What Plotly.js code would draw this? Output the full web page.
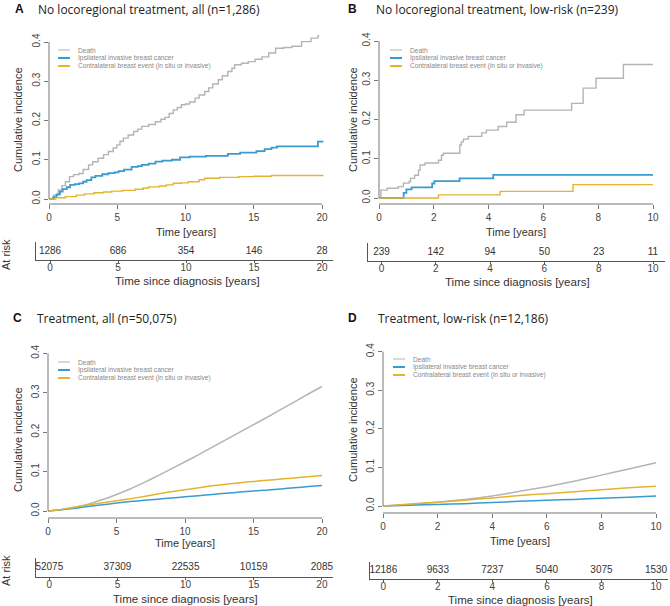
<!DOCTYPE html>
<html><head><meta charset="utf-8">
<script src="https://cdn.plot.ly/plotly-3.0.1.min.js"></script>
<style>body{margin:0;background:#fff}#chart{width:670px;height:606px}</style>
</head><body><div id="chart"></div>
<script>
// ---------- DATA ----------
const seriesNames = ['Death', 'Ipsilateral invasive breast cancer', 'Contralateral breast event (in situ or invasive)'];
const panelTitles = ['No locoregional treatment, all (n=1,286)', 'No locoregional treatment, low-risk (n=239)', 'Treatment, all (n=50,075)', 'Treatment, low-risk (n=12,186)'];
const panelLetters = ['A', 'B', 'C', 'D'];

// Panel A (step functions)
const deathA_t = [0, 0.35, 0.68, 0.95, 1.2, 1.5, 1.8, 2.2, 2.5, 2.9, 3.2, 3.6, 4.0, 4.35, 4.7, 4.96, 5.2, 5.45, 5.8, 6.2, 6.5, 6.8, 7.3, 7.8, 8.2, 8.5, 8.8, 9.1, 9.4, 9.7, 10.0, 10.3, 10.7, 11.0, 11.4, 11.7, 12.0, 12.4, 12.7, 13.1, 13.4, 13.6, 14.1, 14.6, 15.1, 15.6, 16.1, 16.6, 17.2, 17.8, 18.5, 19.2, 19.7, 19.8];
const deathA_v = [0, 0.01, 0.023, 0.034, 0.044, 0.057, 0.062, 0.065, 0.075, 0.087, 0.095, 0.104, 0.113, 0.121, 0.13, 0.138, 0.147, 0.155, 0.163, 0.172, 0.178, 0.185, 0.19, 0.197, 0.203, 0.208, 0.218, 0.227, 0.233, 0.24, 0.242, 0.247, 0.257, 0.265, 0.274, 0.283, 0.293, 0.304, 0.314, 0.325, 0.333, 0.342, 0.346, 0.35, 0.356, 0.362, 0.372, 0.384, 0.386, 0.389, 0.401, 0.41, 0.416, 0.416];
const ipsiA_t = [0, 0.3, 0.55, 0.8, 1.0, 1.3, 1.55, 1.9, 2.2, 2.5, 2.75, 3.1, 3.4, 3.9, 4.35, 4.8, 5.1, 5.5, 6.05, 6.5, 6.8, 7.3, 7.8, 8.3, 9.0, 9.6, 10.3, 11.5, 13.1, 14.0, 15.2, 15.8, 16.3, 16.7, 19.7, 20.1];
const ipsiA_v = [0, 0.005, 0.012, 0.019, 0.025, 0.03, 0.036, 0.038, 0.04, 0.044, 0.048, 0.055, 0.059, 0.063, 0.066, 0.068, 0.071, 0.075, 0.082, 0.084, 0.087, 0.09, 0.095, 0.098, 0.1, 0.106, 0.108, 0.11, 0.115, 0.118, 0.122, 0.127, 0.131, 0.134, 0.146, 0.146];
const contraA_t = [0, 0.5, 1.2, 2.0, 2.6, 3.3, 4.0, 4.6, 5.4, 6.3, 6.9, 7.3, 8.1, 8.6, 9.1, 9.7, 10.2, 11.0, 11.4, 12.5, 13.9, 15.0, 16.3, 20.1];
const contraA_v = [0, 0.003, 0.006, 0.01, 0.013, 0.016, 0.018, 0.02, 0.022, 0.025, 0.028, 0.031, 0.033, 0.036, 0.04, 0.041, 0.044, 0.049, 0.053, 0.055, 0.057, 0.058, 0.06, 0.06];

// Panel B (step functions)
const deathB_t = [0, 0.07, 0.3, 0.7, 0.89, 1.1, 1.15, 1.3, 1.44, 1.5, 1.68, 2.17, 2.28, 2.35, 2.95, 3.0, 3.08, 3.26, 3.75, 3.92, 4.35, 4.66, 5.0, 5.3, 7.03, 7.45, 7.92, 8.92, 10];
const deathB_v = [0, 0.02, 0.025, 0.029, 0.038, 0.042, 0.05, 0.058, 0.071, 0.084, 0.089, 0.096, 0.109, 0.114, 0.135, 0.143, 0.15, 0.157, 0.166, 0.173, 0.182, 0.193, 0.212, 0.224, 0.241, 0.28, 0.305, 0.34, 0.34];
const ipsiB_t = [0, 0.9, 1.0, 1.19, 1.94, 2.02, 2.94, 4.17, 10];
const ipsiB_v = [0, 0.013, 0.022, 0.027, 0.037, 0.043, 0.05, 0.059, 0.059];
const contraB_t = [0, 2.17, 4.42, 7.08, 10];
const contraB_v = [0, 0.008, 0.017, 0.034, 0.034];

// Panel C (yearly values)
const yearsC = [0, 1, 2, 3, 4, 5, 6, 7, 8, 9, 10, 11, 12, 13, 14, 15, 16, 17, 18, 19, 20];
const deathC = [0, 0.004, 0.01, 0.018, 0.029, 0.042, 0.056, 0.072, 0.089, 0.107, 0.125, 0.143, 0.162, 0.181, 0.2, 0.219, 0.238, 0.258, 0.277, 0.297, 0.316];
const ipsiC = [0, 0.003, 0.007, 0.012, 0.016, 0.02, 0.024, 0.027, 0.03, 0.033, 0.036, 0.039, 0.042, 0.045, 0.048, 0.051, 0.053, 0.056, 0.059, 0.062, 0.065];
const contraC = [0, 0.004, 0.01, 0.016, 0.021, 0.026, 0.031, 0.037, 0.043, 0.049, 0.054, 0.059, 0.064, 0.068, 0.072, 0.075, 0.078, 0.081, 0.084, 0.087, 0.09];

// Panel D (yearly values)
const yearsD = [0, 1, 2, 3, 4, 5, 6, 7, 8, 9, 10];
const deathD = [0, 0.004, 0.01, 0.017, 0.026, 0.038, 0.05, 0.064, 0.08, 0.096, 0.112];
const ipsiD = [0, 0.002, 0.004, 0.006, 0.009, 0.012, 0.015, 0.017, 0.02, 0.023, 0.026];
const contraD = [0, 0.005, 0.01, 0.015, 0.021, 0.027, 0.032, 0.037, 0.042, 0.047, 0.051];

// At risk tables
const riskTimes20 = [0, 5, 10, 15, 20];
const riskTimes10 = [0, 2, 4, 6, 8, 10];
const atRiskA = [1286, 686, 354, 146, 28];
const atRiskB = [239, 142, 94, 50, 23, 11];
const atRiskC = [52075, 37309, 22535, 10159, 2085];
const atRiskD = [12186, 9633, 7237, 5040, 3075, 1530];

const yTicks = [0, 0.1, 0.2, 0.3, 0.4];
const yTickText = ['0.0', '0.1', '0.2', '0.3', '0.4'];

// ---------- LAYOUT HELPERS ----------
const W = 670, H = 606;
const colors = ['#b4b4b4', '#3a9bd2', '#e4b42e'];
const FONT = 'Liberation Sans, Arial, sans-serif';
function X(px0, ppu, l, r) { return { domain: [l / W, r / W], range: [(l - px0) / ppu, (r - px0) / ppu] }; }
function Y(py0, ppu, b, t) { return { domain: [1 - b / H, 1 - t / H], range: [(py0 - b) / ppu, (py0 - t) / ppu] }; }
const px = v => v / W, py = v => 1 - v / H;

// panel geometry (pixels)
const panels = [
  { x0: 49, xp: 13.65, l: 49, r: 326, xmax: 20, y0: 199, yp: 392.5, b: 204, t: 35, ticks: riskTimes20,
    risk: { l: 36, r: 333, x0: 50, xp: 13.6, b: 260, t: 242 }, leg: { x: 58, y: 50 },
    cum: { x: 18, y: 120 }, time: { x: 186, y: 232 }, since: { x: 187, y: 281 }, title: { lx: 19, tx: 36, y: 9 }, atrisk: { x: 6, y: 255 } },
  { x0: 379, xp: 27.4, l: 379, r: 660, xmax: 10, y0: 198, yp: 392.5, b: 204, t: 35, ticks: riskTimes10,
    risk: { l: 368, r: 665, x0: 381.5, xp: 27.15, b: 261, t: 243 }, leg: { x: 390, y: 50 },
    cum: { x: 353, y: 120 }, time: { x: 516, y: 232 }, since: { x: 517, y: 282 }, title: { lx: 352, tx: 374, y: 9 }, atrisk: null },
  { x0: 48, xp: 13.7, l: 48, r: 326, xmax: 20, y0: 511, yp: 394, b: 518, t: 345, ticks: riskTimes20,
    risk: { l: 36, r: 333, x0: 49.3, xp: 13.63, b: 577, t: 558 }, leg: { x: 58, y: 362 },
    cum: { x: 18, y: 440 }, time: { x: 185, y: 543 }, since: { x: 185, y: 599 }, title: { lx: 17, tx: 35, y: 318 }, atrisk: { x: 6, y: 571 } },
  { x0: 383, xp: 27.3, l: 383, r: 660, xmax: 10, y0: 506, yp: 385.8, b: 513, t: 345, ticks: riskTimes10,
    risk: { l: 370, r: 668, x0: 383.3, xp: 27.27, b: 579, t: 562 }, leg: { x: 393, y: 359 },
    cum: { x: 353, y: 430 }, time: { x: 520, y: 541 }, since: { x: 520, y: 600 }, title: { lx: 352, tx: 376, y: 318 }, atrisk: null }
];

const curveData = [
  [[deathA_t, deathA_v], [ipsiA_t, ipsiA_v], [contraA_t, contraA_v]],
  [[deathB_t, deathB_v], [ipsiB_t, ipsiB_v], [contraB_t, contraB_v]],
  [[yearsC, deathC], [yearsC, ipsiC], [yearsC, contraC]],
  [[yearsD, deathD], [yearsD, ipsiD], [yearsD, contraD]]
];
const stepPanels = [true, true, false, false];
const riskData = [atRiskA, atRiskB, atRiskC, atRiskD];
const riskTimes = [riskTimes20, riskTimes10, riskTimes20, riskTimes10];
const lineWidths = [[1.4, 1.8, 1.4], [1.4, 1.8, 1.4], [1.5, 1.5, 1.5], [1.5, 1.5, 1.5]];

const traces = [];
const layout = {
  width: W, height: H, margin: { l: 0, r: 0, t: 0, b: 0 },
  paper_bgcolor: '#fff', plot_bgcolor: 'rgba(0,0,0,0)', showlegend: false,
  font: { family: FONT, color: '#333' }, shapes: [], annotations: []
};

panels.forEach((p, i) => {
  const n = i + 1, m = i + 5;
  const sfx = n === 1 ? '' : String(n);
  const xa = X(p.x0, p.xp, p.l, p.r), ya = Y(p.y0, p.yp, p.b, p.t);
  const tickCommon = { showgrid: false, zeroline: false, showline: false, ticks: 'outside', ticklen: 4, tickwidth: 1,
    tickcolor: '#777', tickfont: { family: FONT, size: 10, color: '#444' }, fixedrange: true };
  layout['xaxis' + sfx] = Object.assign({}, tickCommon, xa, { anchor: 'y' + sfx, tickvals: p.ticks });
  layout['yaxis' + sfx] = Object.assign({}, tickCommon, ya, { anchor: 'x' + sfx, tickvals: yTicks, ticktext: yTickText, tickangle: -90 });
  // at-risk axes
  const rx = X(p.risk.x0, p.risk.xp, p.risk.l, p.risk.r);
  layout['xaxis' + m] = Object.assign({}, tickCommon, rx, { anchor: 'y' + m, tickvals: riskTimes[i], showline: true, linecolor: '#555', linewidth: 1,
    ticklen: 2, tickcolor: '#555', ticklabelstandoff: -4, tickfont: { family: FONT, size: 10, color: '#444' } });
  layout['yaxis' + m] = { domain: [1 - p.risk.b / H, 1 - p.risk.t / H], range: [0, 1], anchor: 'x' + m, showline: true, linecolor: '#555', linewidth: 1,
    showticklabels: false, ticks: '', showgrid: false, zeroline: false, fixedrange: true };

  // curves
  curveData[i].forEach((c, k) => {
    traces.push({ x: c[0], y: c[1], type: 'scatter', mode: 'lines', xaxis: 'x' + sfx, yaxis: 'y' + sfx,
      line: { color: colors[k], width: lineWidths[i][k], shape: stepPanels[i] ? 'hv' : 'spline', smoothing: 0.5 }, hoverinfo: 'skip' });
  });
  // at-risk numbers
  traces.push({ x: riskTimes[i], y: riskTimes[i].map(() => 0.5), text: riskData[i].map(String), type: 'scatter', mode: 'text',
    textposition: 'middle center', textfont: { family: FONT, size: 10, color: '#333' }, cliponaxis: false,
    xaxis: 'x' + m, yaxis: 'y' + m, hoverinfo: 'skip' });

  // axis lines (R style: span first to last tick)
  const xEnd = p.x0 + p.xmax * p.xp;
  layout.shapes.push({ type: 'line', xref: 'paper', yref: 'paper', x0: px(p.x0), x1: px(xEnd), y0: py(p.b), y1: py(p.b), line: { color: '#777', width: 1 } });
  layout.shapes.push({ type: 'line', xref: 'paper', yref: 'paper', x0: px(p.l), x1: px(p.l), y0: py(p.y0), y1: py(p.y0 - 0.4 * p.yp), line: { color: '#777', width: 1 } });

  // legend
  const legW = [1, 2, 2];
  seriesNames.forEach((s, k) => {
    const yy = p.leg.y + k * 8;
    layout.shapes.push({ type: 'line', xref: 'paper', yref: 'paper', x0: px(p.leg.x), x1: px(p.leg.x + 12), y0: py(yy), y1: py(yy), line: { color: colors[k], width: legW[k] } });
    layout.annotations.push({ xref: 'paper', yref: 'paper', x: px(p.leg.x + 18), y: py(yy), text: s, showarrow: false, xanchor: 'left', yanchor: 'middle',
      font: { family: FONT, size: 6.6, color: '#888' } });
  });

  // titles & labels
  layout.annotations.push({ xref: 'paper', yref: 'paper', x: px(p.title.lx), y: py(p.title.y), text: '<b>' + panelLetters[i] + '</b>', showarrow: false,
    xanchor: 'center', yanchor: 'middle', font: { family: FONT, size: 12, color: '#111' } });
  layout.annotations.push({ xref: 'paper', yref: 'paper', x: px(p.title.tx), y: py(p.title.y), text: panelTitles[i], showarrow: false,
    xanchor: 'left', yanchor: 'middle', font: { family: 'Open Sans, sans-serif', size: 12, color: '#222' } });
  layout.annotations.push({ xref: 'paper', yref: 'paper', x: px(p.cum.x), y: py(p.cum.y), text: 'Cumulative incidence', showarrow: false, textangle: -90,
    xanchor: 'center', yanchor: 'middle', font: { family: FONT, size: 11, color: '#333' } });
  layout.annotations.push({ xref: 'paper', yref: 'paper', x: px(p.time.x), y: py(p.time.y), text: 'Time [years]', showarrow: false,
    xanchor: 'center', yanchor: 'middle', font: { family: FONT, size: 11, color: '#333' } });
  layout.annotations.push({ xref: 'paper', yref: 'paper', x: px(p.since.x), y: py(p.since.y), text: 'Time since diagnosis [years]', showarrow: false,
    xanchor: 'center', yanchor: 'middle', font: { family: FONT, size: 11.5, color: '#333' } });
  if (p.atrisk) {
    layout.annotations.push({ xref: 'paper', yref: 'paper', x: px(p.atrisk.x), y: py(p.atrisk.y), text: 'At risk', showarrow: false, textangle: -90,
      xanchor: 'center', yanchor: 'middle', font: { family: FONT, size: 11, color: '#333' } });
  }
});

Plotly.newPlot('chart', traces, layout, { staticPlot: true, displayModeBar: false });
</script></body></html>
